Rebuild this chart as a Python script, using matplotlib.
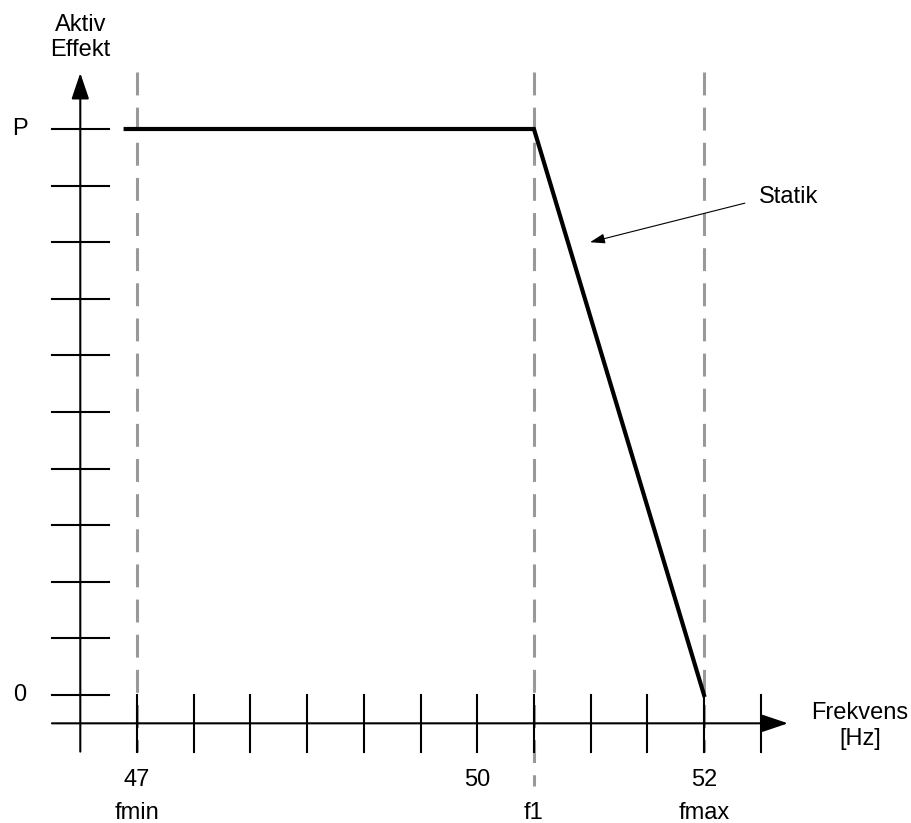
import numpy as np
import matplotlib
matplotlib.use("Agg")
import matplotlib.pyplot as plt

plt.rcParams['font.family'] = ['Liberation Sans', 'DejaVu Sans']

# statik kurve (Hz, aktiv effekt relativt til P)
frekvens = [46.9, 50.5, 52.0]
effekt = [1.0, 1.0, 0.0]

# markerte frekvenser (stiplede linjer) og hvor langt ned de gaar
dash_f = [47.0, 50.5, 52.0]
dash_bunn = [-0.1, -0.161, -0.1]
dash_navn = ["fmin", "f1", "fmax"]

# tick-merker
x_ticks = [47.0, 47.5, 48.0, 48.5, 49.0, 49.5, 50.0, 50.5, 51.0, 51.5, 52.0, 52.5]
x_tall = {47.0: "47", 50.0: "50", 52.0: "52"}
y_ticks = [0.0, 0.1, 0.2, 0.3, 0.4, 0.5, 0.6, 0.7, 0.8, 0.9, 1.0]
y_tall = {0.0: "0", 1.0: "P"}

f0 = 46.5     # y-aksen
p0 = -0.05    # x-aksen

fig = plt.figure(figsize=(9.11, 8.23), dpi=100)
ax = fig.add_axes([0, 0, 1, 1])
ax.set_xlim(45.792, 53.825)
ax.set_ylim(-0.2261, 1.2279)
ax.axis("off")

# stiplede linjer
for f, bunn in zip(dash_f, dash_bunn):
    ax.plot([f, f], [1.10, bunn], color="#999999", lw=2.2,
            dashes=(7.5, 4), zorder=1)

# akser med piler
ax.annotate("", xy=(f0, 1.099), xytext=(f0, -0.1),
            arrowprops=dict(arrowstyle="-|>,head_length=0.8,head_width=0.27",
                            mutation_scale=20, lw=1.5, color="black",
                            shrinkA=0, shrinkB=0), zorder=3)
ax.annotate("", xy=(52.74, p0), xytext=(46.25, p0),
            arrowprops=dict(arrowstyle="-|>,head_length=0.8,head_width=0.27",
                            mutation_scale=20, lw=1.5, color="black",
                            shrinkA=0, shrinkB=0), zorder=3)

# tick-merker
for x in x_ticks:
    ax.plot([x, x], [p0 - 0.05, p0 + 0.05], color="black", lw=1.5, zorder=3)
for y in y_ticks:
    ax.plot([f0 - 0.25, f0 + 0.25], [y, y], color="black", lw=1.5, zorder=3)

# statik kurve
ax.plot(frekvens, effekt, color="black", lw=3, solid_joinstyle="miter", zorder=4)

# tekster
fs = 17
for x, t in x_tall.items():
    ax.text(x, -0.150, t, ha="center", va="center", fontsize=fs)
for f, t in zip(dash_f, dash_navn):
    ax.text(f, -0.2085, t, ha="center", va="center", fontsize=fs)
for y, t in y_tall.items():
    ax.text(45.97, y, t, ha="center", va="center", fontsize=fs)

ax.text(f0, 1.1617, "Aktiv\nEffekt", ha="center", va="center", fontsize=fs,
        linespacing=1.2)
ax.text(53.376, -0.0548, "Frekvens\n[Hz]", ha="center", va="center", fontsize=fs,
        linespacing=1.2)

ax.annotate("", xy=(50.995, 0.800), xytext=(52.36, 0.869),
            arrowprops=dict(arrowstyle="-|>,head_length=0.6,head_width=0.2",
                            mutation_scale=15, lw=0.8, color="black",
                            shrinkA=0, shrinkB=0))
ax.text(52.485, 0.880, "Statik", ha="left", va="center", fontsize=fs)

fig.savefig("out.png", dpi=100)
